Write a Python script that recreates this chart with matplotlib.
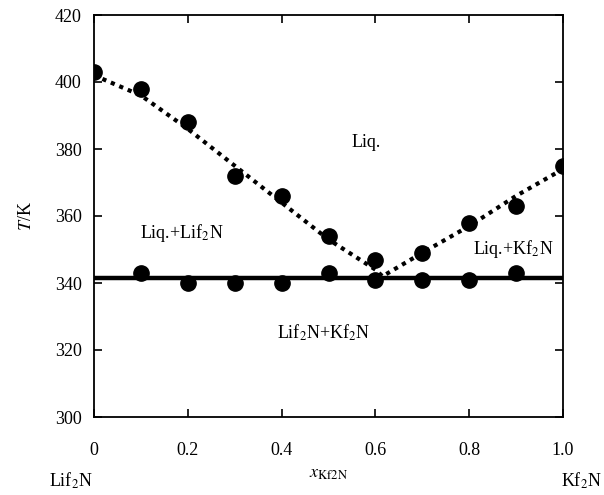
import matplotlib
matplotlib.use("Agg")
import matplotlib.pyplot as plt

plt.rcParams["font.family"] = ["Liberation Serif", "DejaVu Serif"]
plt.rcParams["mathtext.fontset"] = "stix"

# liquidus measurements
x_liq = [0.0, 0.1, 0.2, 0.3, 0.4, 0.5, 0.6, 0.7, 0.8, 0.9, 1.0]
T_liq = [403, 398, 388, 372, 366, 354, 347, 349, 358, 363, 375]

# solidus measurements
x_sol = [0.1, 0.2, 0.3, 0.4, 0.5, 0.6, 0.7, 0.8, 0.9]
T_sol = [343, 340, 340, 340, 343, 341, 341, 341, 343]

# fitted liquidus (dotted)
x_fit = [0.0, 0.1, 0.2, 0.3, 0.4, 0.5, 0.6, 0.615, 0.7, 0.8, 0.9, 1.0]
T_fit = [402, 396, 386, 375, 364, 353, 344, 342, 349, 357, 366, 374]

T_eut = 341.5

fig = plt.figure(figsize=(6.04, 4.95), dpi=100)
ax = fig.add_axes([94 / 604, 1 - 417 / 495, 469 / 604, 402 / 495])

ax.plot(x_fit, T_fit, color="black", lw=3, linestyle=(0, (1, 1.2)), zorder=2)
ax.plot([0, 1], [T_eut, T_eut], color="black", lw=3.2, zorder=2)
ax.plot(x_liq, T_liq, "o", color="black", ms=11, zorder=3)
ax.plot(x_sol, T_sol, "o", color="black", ms=11, zorder=3)

ax.set_xlim(0, 1.0)
ax.set_ylim(300, 420)
ax.set_xticks([0, 0.2, 0.4, 0.6, 0.8, 1.0])
ax.set_xticklabels(["0", "0.2", "0.4", "0.6", "0.8", "1.0"])
ax.set_yticks(range(300, 421, 20))
ax.tick_params(direction="in", length=6, width=1.2, top=True, right=True,
               labelsize=13)
ax.tick_params(axis="x", pad=18)
ax.tick_params(axis="y", pad=9)
for s in ax.spines.values():
    s.set_linewidth(1.3)

ax.set_xlabel(r"$x_{\mathrm{Kf2N}}$", fontsize=13, labelpad=4)
ax.set_ylabel(r"$T$/K", fontsize=13, labelpad=14)

ax.text(0.58, 382, "Liq.", fontsize=13, ha="center", va="center")
ax.text(0.187, 355, "Liq.+Lif$_2$N", fontsize=13, ha="center", va="center")
ax.text(0.895, 350, "Liq.+Kf$_2$N", fontsize=13, ha="center", va="center")
ax.text(0.49, 325, "Lif$_2$N+Kf$_2$N", fontsize=13, ha="center", va="center")

fig.text(71 / 604, 1 - 481 / 495, "Lif$_2$N", fontsize=13, ha="center", va="center")
fig.text(602 / 604, 1 - 481 / 495, "Kf$_2$N", fontsize=13, ha="right", va="center")

fig.savefig("out.png", dpi=100)
